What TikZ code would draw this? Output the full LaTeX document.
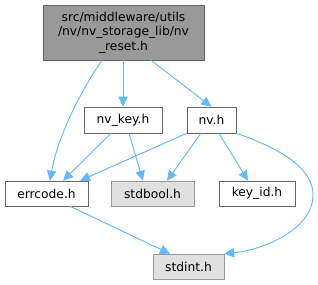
\documentclass[tikz,border=0pt]{standalone}
\usepackage{fontspec}
\setmainfont{DejaVu Sans}
\usetikzlibrary{arrows.meta}
\definecolor{edgeblue}{HTML}{63B8FF}
\definecolor{darkbox}{HTML}{999999}
\definecolor{lightbox}{HTML}{E0E0E0}
\tikzset{
    file/.style={draw=black!60, rectangle, inner sep=0pt, minimum height=19.5pt, font=\fontsize{9.2}{10.9}\selectfont},
    sysfile/.style={file, draw=darkbox, fill=lightbox},
    dep/.style={draw=edgeblue, line width=0.7pt, -{Triangle[length=7.5pt,width=7pt]}}
}
\begin{document}
\begin{tikzpicture}[x=0.75pt, y=-0.75pt]
    \useasboundingbox (0,0) rectangle (318,285);

    % Source file
    \node[file, fill=darkbox, minimum width=120.75pt, minimum height=41.25pt, align=center] (reset) at (123.5,32.5) {src/middleware/utils\\/nv/nv\_storage\_lib/nv\\\_reset.h};

    % Headers
    \node[file, minimum width=58.5pt] (nvkey) at (123,120) {nv\_key.h};
    \node[file, minimum width=36.75pt] (nv) at (211.5,120) {nv.h};
    \node[file, minimum width=62.25pt, minimum height=18.75pt] (errcode) at (46.5,193.5) {errcode.h};
    \node[sysfile, minimum width=62.25pt, minimum height=18.75pt] (stdbool) at (152.5,193.5) {stdbool.h};
    \node[file, minimum width=57pt, minimum height=18.75pt] (keyid) at (257,193.5) {key\_id.h};
    \node[sysfile, minimum width=53.25pt, minimum height=18.75pt] (stdint) at (188.5,266.5) {stdint.h};

    % Connections
    \draw[dep] (reset.south -| 102,0) .. controls (78,95) and (57,140) .. (errcode.north -| 50,0);
    \draw[dep] (reset.south -| nvkey) -- (nvkey);
    \draw[dep] (reset.south -| 151,0) -- (nv.north);
    \draw[dep] (nvkey.south -| 111,0) -- (errcode.north -| 63,0);
    \draw[dep] (nvkey.south -| 129,0) -- (stdbool.north -| 143,0);
    \draw[dep] (nv.south west) -- (errcode.north -| 80,0);
    \draw[dep] (nv.south -| 201,0) -- (stdbool.north -| 167,0);
    \draw[dep] (nv.south -| 219,0) -- (keyid.north -| 248,0);
    \draw[dep] (nv.south east) .. controls (285,150) and (313,170) .. (313,195) .. controls (313,230) and (262,250) .. (stdint.north east);
    \draw[dep] (errcode.south -| 70,0) -- (stdint.north -| 170,0);
\end{tikzpicture}
\end{document}
